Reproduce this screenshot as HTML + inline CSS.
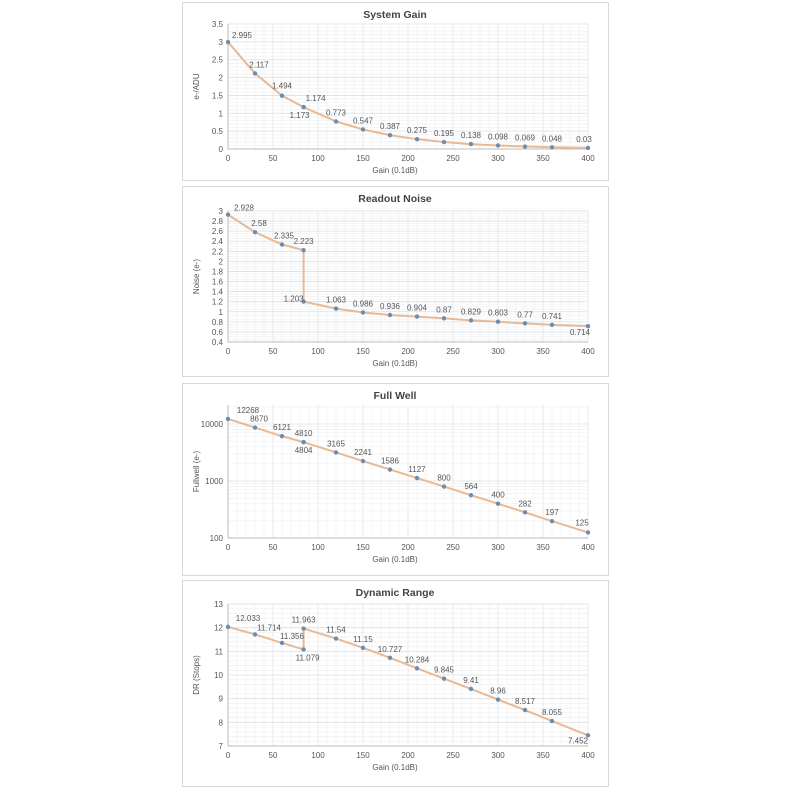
<!DOCTYPE html>
<html><head><meta charset="utf-8"><style>
body{margin:0;background:#fff;width:790px;height:790px;overflow:hidden}
svg{display:block}
text{font-family:"Liberation Sans",sans-serif;fill:#555}
</style></head><body>
<svg id="s" width="790" height="790" xmlns="http://www.w3.org/2000/svg"></svg>
<script>
const S=document.getElementById('s');let h='';
const X0=228,X1=588;const xp=v=>X0+(X1-X0)*v/400;
function panel(o){
 h+=`<rect x="182.5" y="${o.fy0+.5}" width="426" height="${o.fy1-o.fy0}" fill="#fff" stroke="#d8d8d8"/>`;
 h+=`<text x="395" y="${o.fy0+16}" text-anchor="middle" font-size="10.5" font-weight="bold" style="fill:#444">${o.title}</text>`;
 // minor grid
 for(let v=0;v<=400;v+=10){h+=`<line x1="${xp(v)}" x2="${xp(v)}" y1="${o.top}" y2="${o.bot}" stroke="${v%50?'#eef0f3':'#dcdfe3'}" stroke-width="0.7"/>`;}
 o.minor.forEach(y=>{h+=`<line x1="${X0}" x2="${X1}" y1="${y}" y2="${y}" stroke="#eef0f3" stroke-width="0.7"/>`;});
 o.ticks.forEach(([y,l])=>{h+=`<line x1="${X0}" x2="${X1}" y1="${y}" y2="${y}" stroke="#dcdfe3" stroke-width="0.8"/><text x="${X0-5}" y="${y+3}" text-anchor="end" font-size="8">${l}</text>`;});
 h+=`<line x1="${X0}" x2="${X1}" y1="${o.bot}" y2="${o.bot}" stroke="#bbb"/><line x1="${X0}" x2="${X0}" y1="${o.top}" y2="${o.bot}" stroke="#bbb"/>`;
 for(let v=0;v<=400;v+=50)h+=`<text x="${xp(v)}" y="${o.bot+12}" text-anchor="middle" font-size="8">${v}</text>`;
 h+=`<text x="395" y="${o.bot+24}" text-anchor="middle" font-size="8">Gain (0.1dB)</text>`;
 const ym=(o.top+o.bot)/2;
 h+=`<text x="199" y="${ym}" text-anchor="middle" font-size="8" transform="rotate(-90 199 ${ym})">${o.ylab}</text>`;
 let pts=o.data.map(d=>[xp(d[0]),o.y(d[1])]);
 h+=`<polyline points="${pts.map(p=>p.join(',')).join(' ')}" fill="none" stroke="#e9b994" stroke-width="2"/>`;
 pts.forEach(p=>h+=`<circle cx="${p[0]}" cy="${p[1]}" r="2.2" fill="#6d8db0"/>`);
 o.data.forEach((d,i)=>{const p=pts[i];const off=d[2]||[0,-6];h+=`<text x="${p[0]+off[0]}" y="${p[1]+off[1]}" text-anchor="middle" font-size="8">${d[3]||d[1]}</text>`;});
}
// Panel 1
{const top=24,bot=149,y=v=>bot-(bot-top)*v/3.5;let t=[],m=[];for(let v=0;v<=3.5;v+=0.5)t.push([y(v),v]);for(let v=0;v<=3.5;v+=0.1)m.push(y(v));
panel({fy0:2,fy1:180,title:'System Gain',top,bot,ylab:'e-/ADU',ticks:t,minor:m,y,data:[[0,2.995,[14,-4]],[30,2.117,[4,-6]],[60,1.494,[0,-7]],[84,1.174,[12,-6]],[84,1.173,[-4,11]],[120,0.773,[0,-6]],[150,0.547],[180,0.387],[210,0.275],[240,0.195],[270,0.138],[300,0.098],[330,0.069],[360,0.048],[400,0.03,[-4,-6]]]});}
// Panel 2
{const top=211,bot=342,y=v=>bot-(bot-top)*(v-0.4)/2.6;let t=[],m=[];for(let v=0.4;v<=3.01;v+=0.2)t.push([y(v),Math.round(v*10)/10]);for(let v=0.4;v<=3.01;v+=0.05)m.push(y(v));
panel({fy0:186,fy1:376,title:'Readout Noise',top,bot,ylab:'Noise (e-)',ticks:t,minor:m,y,data:[[0,2.928,[16,-4]],[30,2.58,[4,-6]],[60,2.335,[2,-6]],[84,2.223,[0,-6]],[84,1.203,[-10,0],'1.203'],[120,1.063],[150,0.986],[180,0.936],[210,0.904],[240,0.87],[270,0.829],[300,0.803],[330,0.77],[360,0.741],[400,0.714,[-8,9]]]});}
// Panel 3
{const top=405,bot=538,y=v=>538-57*(Math.log10(v)-2);let t=[[y(100),100],[y(1000),1000],[y(10000),10000]],m=[];for(let d=100;d<=10000;d*=10)for(let k=2;k<10;k++){const yy=y(d*k);if(yy>=top)m.push(yy);}
panel({fy0:383,fy1:575,title:'Full Well',top,bot,ylab:'Fullwell (e-)',ticks:t,minor:m,y,data:[[0,12268,[20,-6]],[30,8670,[4,-6]],[60,6121,[0,-6]],[84,4810,[0,-6]],[84,4804,[0,11]],[120,3165],[150,2241],[180,1586],[210,1127],[240,800],[270,564],[300,400],[330,282],[360,197],[400,125,[-6,-7]]]});}
// Panel 4
{const top=604,bot=746,y=v=>bot-(bot-top)*(v-7)/6;let t=[],m=[];for(let v=7;v<=13;v++)t.push([y(v),v]);for(let v=7;v<=13;v+=0.2)m.push(y(v));
panel({fy0:580,fy1:786,title:'Dynamic Range',top,bot,ylab:'DR (Stops)',ticks:t,minor:m,y,data:[[0,12.033,[20,-6]],[30,11.714,[14,-4]],[60,11.356,[10,-4]],[84,11.079,[4,11]],[84,11.963,[0,-6]],[120,11.54,[0,-6]],[150,11.15],[180,10.727],[210,10.284],[240,9.845],[270,9.41],[300,8.96],[330,8.517],[360,8.055],[400,7.452,[-10,8]]]});}
S.innerHTML=h;
</script>
</body></html>
